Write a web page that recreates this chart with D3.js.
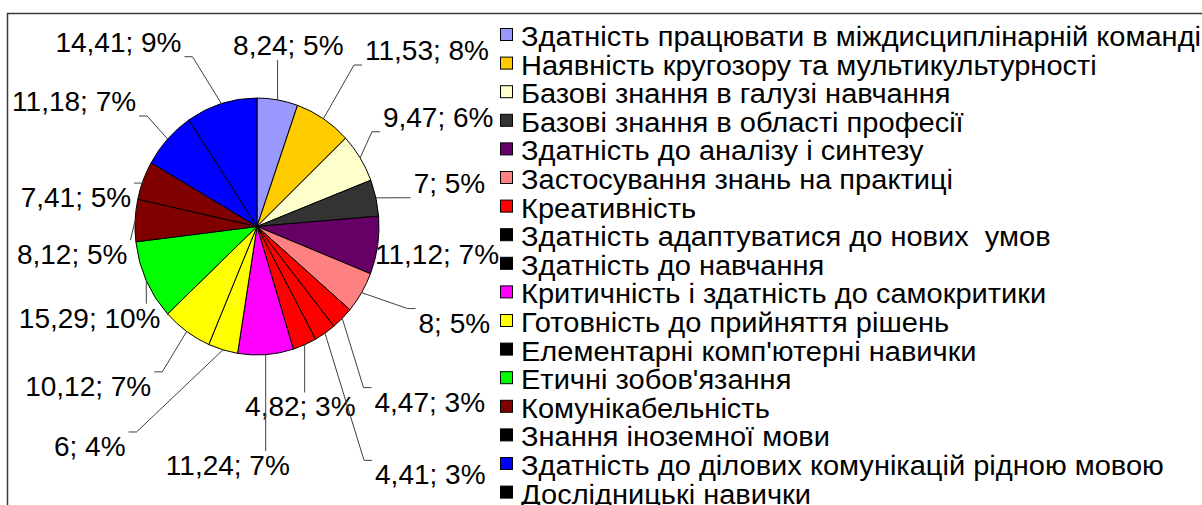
<!DOCTYPE html>
<html>
<head>
<meta charset="utf-8">
<script src="https://cdn.jsdelivr.net/npm/d3@7"></script>
<style>
   body { margin: 0; background: #fff; }
   svg text { font-family: "Liberation Sans", Arial, sans-serif; white-space: pre; }
</style>
</head>
<body>
<svg id="chart" width="1202" height="505"></svg>
<script>
// categories (legend order == slice order, clockwise from 12 o'clock)
const categories = [
   "Здатність працювати в міждисциплінарній команді",
   "Наявність кругозору та мультикультурності",
   "Базові знання в галузі навчання",
   "Базові знання в області професії",
   "Здатність до аналізу і синтезу",
   "Застосування знань на практиці",
   "Креативність",
   "Здатність адаптуватися до нових  умов",
   "Здатність до навчання",
   "Критичність і здатність до самокритики",
   "Готовність до прийняття рішень",
   "Елементарні комп'ютерні навички",
   "Етичні зобов'язання",
   "Комунікабельність",
   "Знання іноземної мови",
   "Здатність до ділових комунікацій рідною мовою",
   "Дослідницькі навички"
];
const values = [8.24, 11.53, 9.47, 7, 11.12, 8, 4.47, 4.41, 4.82, 11.24, 6, 10.12, 15.29, 8.12, 7.41, 11.18, 14.41];
const percentLabels = ["5%", "8%", "6%", "5%", "7%", "5%", "3%", "3%", "3%", "7%", "4%", "7%", "10%", "5%", "5%", "7%", "9%"];
// slice fills as drawn in the pie
const sliceColors = ["#9999ff", "#ffcc00", "#ffffcc", "#333333", "#660066", "#ff8080", "#ff0000", "#ff0000", "#ff0000",
   "#ff00ff", "#ffff00", "#ffff00", "#00ff00", "#800000", "#800000", "#0000ff", "#0000ff"];
// swatch colours as shown in the legend
const legendColors = ["#9999ff", "#ffcc00", "#ffffcc", "#333333", "#660066", "#ff8080", "#ff0000", "#000000", "#000000",
   "#ff00ff", "#ffff00", "#000000", "#00ff00", "#800000", "#000000", "#0000ff", "#000000"];

// label nudges away from the default radial position
const labelNudge = [[1, 6], [72, -17], [29, -8], [17, -1], [2, 0], [43, -1], [47, 40], [73, 91], [-27, 6],
   [-42, 50], [-117, 38], [-65, 5], [-4, 12], [-5, 37], [-13, 39], [-51, 4], [-86, -3]];

const svg = d3.select("#chart");
const cx = 257, cy = 226.5, radius = 122, ky = 1.053, labelR = 180;

// frame
svg.append("rect")
   .attr("x", 7.5).attr("y", 13.5)
   .attr("width", 1400).attr("height", 700)
   .attr("fill", "none").attr("stroke", "#3a3a3a").attr("stroke-width", 1.5);

const pie = d3.pie().sort(null).value(d => d)(values);
const arc = d3.arc().innerRadius(0).outerRadius(radius);

svg.append("g")
   .attr("transform", "translate(" + cx + "," + cy + ") scale(1," + ky + ")")
   .selectAll("path")
   .data(pie)
   .join("path")
      .attr("d", arc)
      .attr("fill", (d, i) => sliceColors[i])
      .attr("stroke", "#000")
      .attr("stroke-width", 1)
      .attr("vector-effect", "non-scaling-stroke");

// data labels
const fmt = v => String(v).replace(".", ",");
const labelG = svg.append("g");
const leaderG = svg.append("g");

pie.forEach((d, i) => {
   let a = (d.startAngle + d.endAngle) / 2;
   let lx = cx + Math.sin(a) * labelR + labelNudge[i][0];
   let ly = cy - Math.cos(a) * labelR * ky + labelNudge[i][1];
   let t = labelG.append("text")
      .attr("x", lx).attr("y", ly)
      .attr("text-anchor", "middle")
      .attr("dominant-baseline", "central")
      .style("font-size", "28px")
      .attr("fill", "#000")
      .text(fmt(values[i]) + "; " + percentLabels[i]);
   let b = t.node().getBBox();
   let pad = 3;
   let x0 = b.x - pad, x1 = b.x + b.width + pad, y0 = b.y + 4 - pad, y1 = b.y + b.height - 4 + pad;
   let sx = cx + Math.sin(a) * radius;
   let sy = cy - Math.cos(a) * radius * ky;
   let ex = Math.max(x0, Math.min(x1, sx));
   let ey = Math.max(y0, Math.min(y1, sy));
   let pts = [[sx, sy]];
   // short horizontal elbow when the line meets the side of the label
   if (ex === x0 && Math.abs(sx - ex) > 8) pts.push([ex - 8, ey]);
   else if (ex === x1 && Math.abs(sx - ex) > 8) pts.push([ex + 8, ey]);
   pts.push([ex, ey]);
   leaderG.append("path")
      .attr("d", d3.line()(pts))
      .attr("fill", "none")
      .attr("stroke", "#404040").attr("stroke-width", 1);
});

// legend
const rowY = d3.scaleLinear().domain([0, categories.length - 1]).range([46, 46 + 28.6 * 16]);
const legend = svg.append("g").selectAll("g")
   .data(categories)
   .join("g")
      .attr("transform", (d, i) => "translate(500," + rowY(i) + ")");
legend.append("rect")
   .attr("x", 0.5).attr("y", -17.5)
   .attr("width", 12).attr("height", 12)
   .attr("fill", (d, i) => legendColors[i])
   .attr("stroke", "#000").attr("stroke-width", 1);
// the original legend font runs a little wider than Liberation Sans
legend.append("text")
   .attr("transform", "translate(21,0) scale(1.037,1)")
   .style("font-size", "28px")
   .attr("fill", "#000")
   .text(d => d);
</script>
</body>
</html>
